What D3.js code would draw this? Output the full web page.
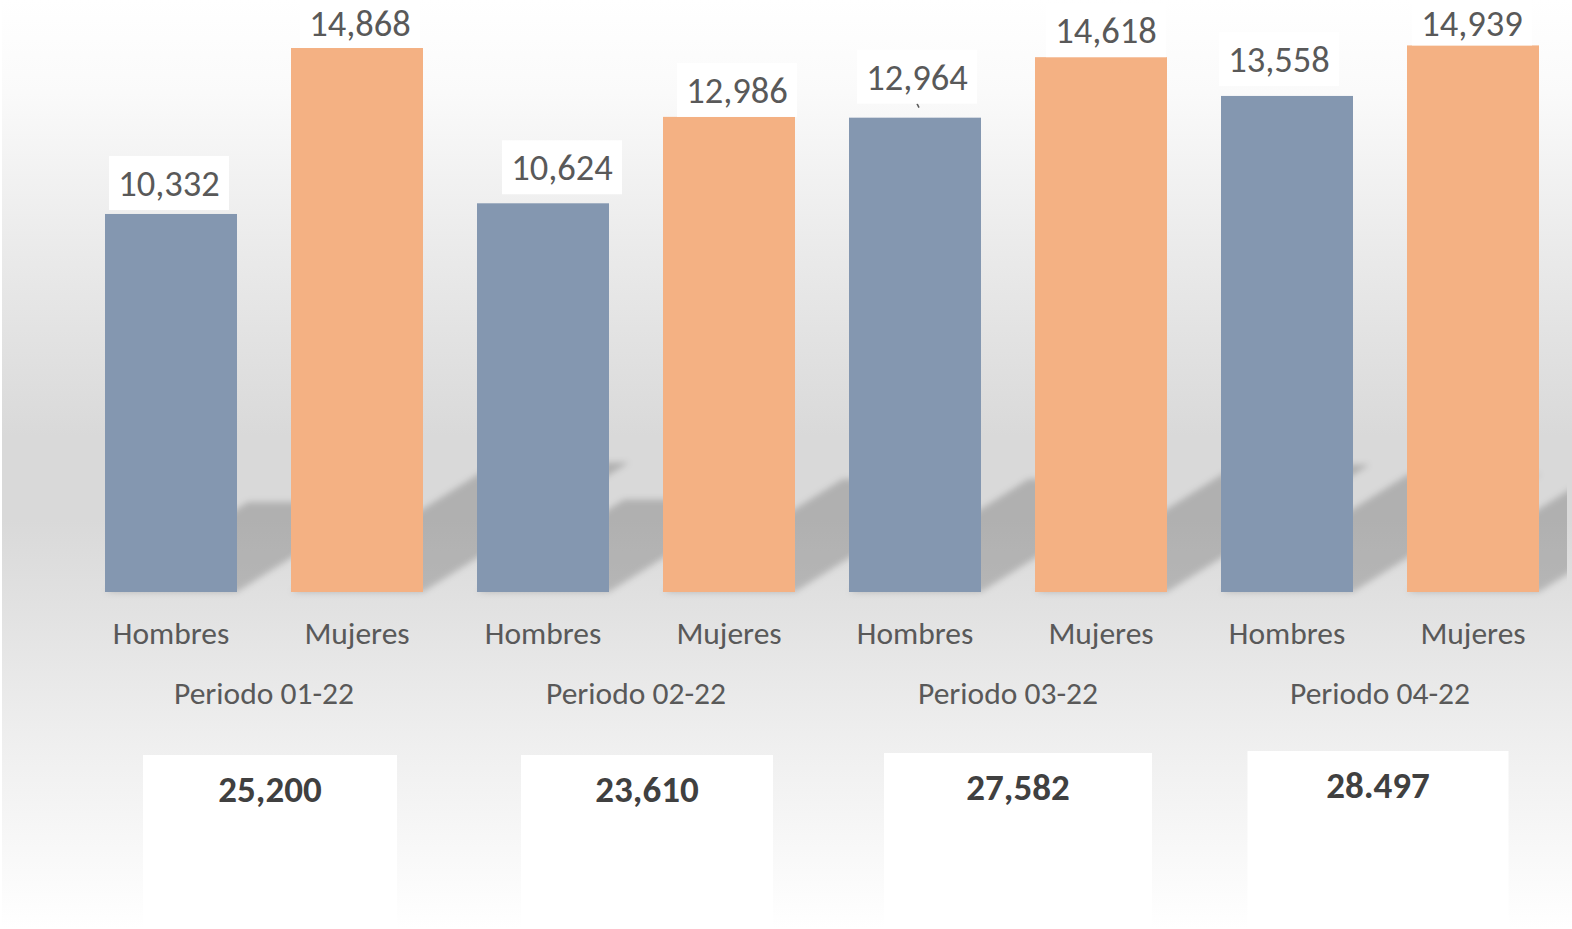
<!DOCTYPE html>
<html>
<head>
<meta charset="utf-8">
<script src="https://cdn.jsdelivr.net/npm/d3@7"></script>
<style>
  body { margin: 0; background: #fff; overflow: hidden; }
  text { font-family: Calibri, Carlito, Lato, sans-serif; }
</style>
</head>
<body>
<div id="chart"></div>
<script>
// ---- data ----
const periods = ["Periodo 01-22", "Periodo 02-22", "Periodo 03-22", "Periodo 04-22"];
const sexes = ["Hombres", "Mujeres"];
const hombres = [10332, 10624, 12964, 13558];
const mujeres = [14868, 12986, 14618, 14939];
const totalLabels = ["25,200", "23,610", "27,582", "28.497"];

// ---- layout: the labels were dragged by hand in the original ----
const labelNudge = [[-2, -4], [3, 0], [19, -9], [8, 0], [2, -14], [5, 0], [-8, -10], [-1, 0]];
const totalBoxes = [{ dx: 6, top: 755, w: 254 }, { dx: 11, top: 755, w: 252 },
                    { dx: 10, top: 753, w: 268 }, { dx: -2, top: 751, w: 261 }];

const width = 1572, height = 929;
const colors = { Hombres: "#8497b0", Mujeres: "#f4b183" };

// flatten into one row per bar
const rows = [];
periods.forEach((p, i) => {
  rows.push({ period: p, sex: "Hombres", value: hombres[i], key: p + "|Hombres" });
  rows.push({ period: p, sex: "Mujeres", value: mujeres[i], key: p + "|Mujeres" });
});

const svg = d3.select("#chart").append("svg")
  .attr("width", width)
  .attr("height", height);

const defs = svg.append("defs");

// background gradient (white -> grey -> white)
const grad = defs.append("linearGradient")
  .attr("id", "bg").attr("x1", 0).attr("y1", 0).attr("x2", 0).attr("y2", 1);
[[0, "#ffffff"], [0.1, "#fafafa"], [0.25, "#ececec"], [0.47, "#d9d9d9"], [0.56, "#d9d9d9"],
 [0.65, "#e1e1e1"], [0.79, "#eeeeee"], [1, "#ffffff"]]
  .forEach(s => grad.append("stop").attr("offset", s[0]).attr("stop-color", s[1]));

defs.append("filter").attr("id", "blur")
  .attr("x", "-20%").attr("y", "-20%").attr("width", "140%").attr("height", "140%")
  .append("feGaussianBlur").attr("stdDeviation", 3.2);

defs.append("clipPath").attr("id", "plotClip")
  .append("rect").attr("x", 0).attr("y", 0).attr("width", 1567).attr("height", 600);

svg.append("rect")
  .attr("x", 2).attr("y", 0)
  .attr("width", width - 2).attr("height", height)
  .attr("fill", "url(#bg)");

// scales
const x = d3.scaleBand()
  .domain(rows.map(d => d.key))
  .range([78, 1566])
  .paddingInner(54 / 186)
  .paddingOuter(27 / 186);

const xGroup = d3.scaleBand()
  .domain(periods)
  .range([78, 1566]);

const y = d3.scaleLinear()
  .domain([0, 16000])
  .range([592, 6.6]);

// perspective shadows (diagonal, upper right)
const shadowScale = 0.238, shadowSkew = 1.59;
svg.append("g")
  .attr("clip-path", "url(#plotClip)")
  .append("g")
  .attr("filter", "url(#blur)")
  .selectAll("path")
  .data(rows)
  .join("path")
  .attr("d", d => {
    const x0 = x(d.key), x1 = x0 + x.bandwidth();
    const h = (y(0) - y(d.value)) * shadowScale;
    const off = h * shadowSkew;
    return `M${x0},${y(0)}L${x1},${y(0)}L${x1 + off},${y(0) - h}L${x0 + off},${y(0) - h}Z`;
  })
  .attr("fill", "#000")
  .attr("opacity", 0.19);

// bars
svg.append("g")
  .selectAll("rect")
  .data(rows)
  .join("rect")
  .attr("x", d => x(d.key))
  .attr("y", d => y(d.value))
  .attr("width", x.bandwidth())
  .attr("height", d => y(0) - y(d.value))
  .attr("fill", d => colors[d.sex]);

// value labels with white boxes
const labelBottom = (d, i) => y(d.value) + labelNudge[i][1];
const labels = svg.append("g")
  .selectAll("g")
  .data(rows)
  .join("g")
  .attr("transform", (d, i) => {
    const cx = x(d.key) + x.bandwidth() / 2 + labelNudge[i][0];
    return `translate(${cx},${labelBottom(d, i)})`;
  });

// leader line when the label sits far from its bar
labels.filter((d, i) => labelNudge[i][1] <= -12)
  .append("line")
  .attr("x1", 0).attr("y1", 0)
  .attr("x2", (d, i) => -labelNudge[i][0])
  .attr("y2", (d, i) => -labelNudge[i][1])
  .attr("stroke", "#595959")
  .attr("stroke-width", 1.5);

labels.append("rect")
  .attr("x", -60).attr("y", -54)
  .attr("width", 120).attr("height", 54)
  .attr("fill", "#fff");

labels.append("text")
  .attr("x", 0)
  .attr("y", -27)
  .attr("dy", "0.36em")
  .attr("text-anchor", "middle")
  .attr("font-size", 36.5)
  .attr("fill", "#595959")
  .text(d => d3.format(",")(d.value))
  .each(function (d, i) {
    // keep the text inside the picture when the label hugs the top edge
    const top = labelBottom(d, i) + this.getBBox().y;
    if (top < 1) d3.select(this).attr("y", -27 + (1 - top));
  });

// category axis (Hombres / Mujeres)
const axis1 = svg.append("g")
  .attr("transform", `translate(0,${y(0)})`)
  .call(d3.axisBottom(x).tickSize(0).tickPadding(29.5).tickFormat(d => d.split("|")[1]));
axis1.select(".domain").remove();
axis1.selectAll("text")
  .attr("font-size", 31.5)
  .attr("fill", "#595959")
  .attr("font-family", "Calibri, Carlito, Lato, sans-serif");

// period axis
const axis2 = svg.append("g")
  .attr("transform", `translate(0,${y(0)})`)
  .call(d3.axisBottom(xGroup).tickSize(0).tickPadding(89.5));
axis2.select(".domain").remove();
axis2.selectAll("text")
  .attr("font-size", 31.5)
  .attr("fill", "#595959")
  .attr("font-family", "Calibri, Carlito, Lato, sans-serif");

// total boxes under each period
const totals = svg.append("g")
  .selectAll("g")
  .data(periods)
  .join("g")
  .attr("transform", (p, i) =>
    `translate(${xGroup(p) + xGroup.bandwidth() / 2 + totalBoxes[i].dx},${totalBoxes[i].top})`);

totals.append("rect")
  .attr("x", (p, i) => -totalBoxes[i].w / 2)
  .attr("y", 0)
  .attr("width", (p, i) => totalBoxes[i].w)
  .attr("height", (p, i) => height - totalBoxes[i].top)
  .attr("fill", "#fff");

totals.append("text")
  .attr("x", 0)
  .attr("y", 47)
  .attr("text-anchor", "middle")
  .attr("font-size", 37)
  .attr("font-weight", "bold")
  .attr("fill", "#404040")
  .text((p, i) => totalLabels[i]);
</script>
</body>
</html>
